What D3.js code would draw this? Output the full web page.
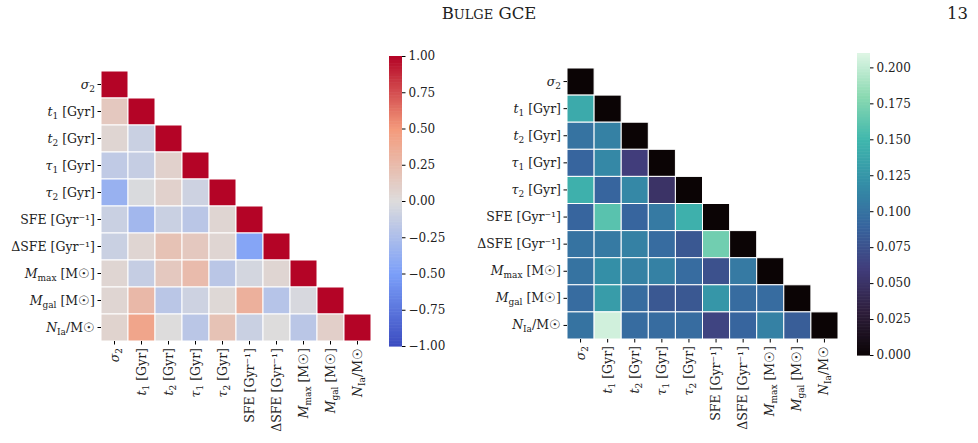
<!DOCTYPE html>
<html><head><meta charset="utf-8">
<script src="https://cdn.jsdelivr.net/npm/d3@7"></script>
<style>body{margin:0;background:#fff}text{font-family:"DejaVu Serif",serif;fill:#222}</style>
</head><body><svg id="c" width="978" height="443"></svg>
<script>
// labels as [italic main, subscript, rest]
const labels = [
  ["σ","2",""],["t","1"," [Gyr]"],["t","2"," [Gyr]"],["τ","1"," [Gyr]"],["τ","2"," [Gyr]"],
  ["","","SFE [Gyr⁻¹]"],["","","ΔSFE [Gyr⁻¹]"],["M","max"," [M☉]"],["M","gal"," [M☉]"],["N","Ia","/M☉"]
];
// lower triangle rows (row i has i values, diagonal added)
const corr = [
  [],
  [0.15],
  [0.05,-0.10],
  [-0.15,-0.12,0.08],
  [-0.35,-0.02,0.08,-0.08],
  [-0.10,-0.30,-0.10,-0.18,0.05],
  [-0.10,0.05,0.20,0.15,0.05,-0.45],
  [0.05,-0.12,0.15,0.25,-0.18,-0.05,0.05],
  [0.05,0.27,-0.18,-0.08,0.03,0.33,-0.20,-0.03],
  [0.07,0.42,0.00,-0.18,0.20,-0.10,0.00,-0.18,0.10]
];
const err = [
  [],
  [0.140],
  [0.100,0.110],
  [0.090,0.115,0.060],
  [0.145,0.090,0.115,0.050],
  [0.090,0.160,0.090,0.105,0.145],
  [0.100,0.105,0.110,0.095,0.080,0.170],
  [0.100,0.120,0.110,0.110,0.095,0.075,0.105],
  [0.095,0.130,0.095,0.080,0.080,0.125,0.095,0.095],
  [0.100,0.205,0.095,0.095,0.095,0.065,0.090,0.110,0.085]
];
const corrTicks = [-1,-0.75,-0.5,-0.25,0,0.25,0.5,0.75,1];
const errTicks = [0,0.025,0.05,0.075,0.1,0.125,0.15,0.175,0.2];

const coolwarm = d3.scaleLinear().domain([-1,-0.5,0,0.5,1])
  .range(["#3b4cc0","#7b9ff9","#dddcdc","#f49a7b","#b40426"]).interpolate(d3.interpolateRgb);
const makoStops = ["#0b0405","#2e1e3b","#413d7b","#37659e","#348fa7","#40b7ad","#8ad9b1","#def5e5"];
const mako = d3.scaleLinear().domain(d3.range(makoStops.length).map(i=>0.21*i/(makoStops.length-1)))
  .range(makoStops).interpolate(d3.interpolateRgb);

const svg = d3.select("#c");
svg.append("text").attr("x",489).attr("y",19).attr("text-anchor","middle").attr("font-size",16.5)
  .html('B<tspan font-size="13">ULGE</tspan> GCE');
svg.append("text").attr("x",968).attr("y",19).attr("text-anchor","end").attr("font-size",16.5).text("13");

function label(sel, l){
  if(l[0]) sel.append("tspan").attr("font-style","italic").text(l[0]);
  if(l[1]) sel.append("tspan").attr("font-size",9).attr("dy",3).text(l[1]);
  sel.append("tspan").attr("dy",l[1]?-3:0).text(l[2]);
}

function heat(x0,y0,size,data,diag,color,cb){
  const g = svg.append("g");
  const b = d3.scaleBand().domain(d3.range(10)).range([0,size]);
  const cells=[];
  data.forEach((r,i)=>{r.forEach((v,j)=>cells.push({i,j,v}));cells.push({i,j:i,v:diag});});
  g.selectAll("rect").data(cells).join("rect")
    .attr("x",d=>x0+b(d.j)).attr("y",d=>y0+b(d.i))
    .attr("width",b.bandwidth()).attr("height",b.bandwidth())
    .attr("fill",d=>color(d.v)).attr("stroke","#fff").attr("stroke-width",1);
  const ya = g.append("g").attr("transform",`translate(${x0},${y0})`)
    .call(d3.axisLeft(b).tickSize(3.5).tickFormat(""));
  ya.select(".domain").remove();
  const xa = g.append("g").attr("transform",`translate(${x0},${y0+size})`)
    .call(d3.axisBottom(b).tickSize(3.5).tickFormat(""));
  xa.select(".domain").remove();
  labels.forEach((l,i)=>{
    const t = g.append("text").attr("x",x0-6).attr("y",y0+b(i)+b.bandwidth()/2+4)
      .attr("text-anchor","end").attr("font-size",12.5);
    label(t,l);
    const t2 = g.append("text").attr("text-anchor","end").attr("font-size",12.5)
      .attr("transform",`translate(${x0+b(i)+b.bandwidth()/2+4},${y0+size+7}) rotate(-90)`);
    label(t2,l);
  });
  // colorbar
  const s = d3.scaleLinear().domain(cb.domain).range([cb.y1,cb.y0]);
  const n=200, dv=(cb.domain[1]-cb.domain[0])/n;
  g.append("g").selectAll("rect").data(d3.range(n)).join("rect")
    .attr("x",cb.x).attr("width",cb.w)
    .attr("y",k=>s(cb.domain[0]+(k+1)*dv)).attr("height",k=>s(cb.domain[0]+k*dv)-s(cb.domain[0]+(k+1)*dv)+0.6)
    .attr("fill",k=>color(cb.domain[0]+(k+0.5)*dv));
  const ca = g.append("g").attr("transform",`translate(${cb.x+cb.w},0)`)
    .call(d3.axisRight(s).tickValues(cb.ticks).tickSize(3.5).tickFormat(d3.format(cb.fmt)));
  ca.select(".domain").remove();
  ca.selectAll("text").attr("font-size",12).attr("font-family","DejaVu Sans,sans-serif").text(d=>d3.format(cb.fmt)(d).replace("-","−"));
}

heat(101,71,270,corr,1,coolwarm,{x:389,w:13,y0:56,y1:346,domain:[-1,1],ticks:corrTicks,fmt:".2f"});
heat(567,68,271,err,0,mako,{x:857,w:13,y0:53,y1:355,domain:[0,0.21],ticks:errTicks,fmt:".3f"});
</script></body></html>
